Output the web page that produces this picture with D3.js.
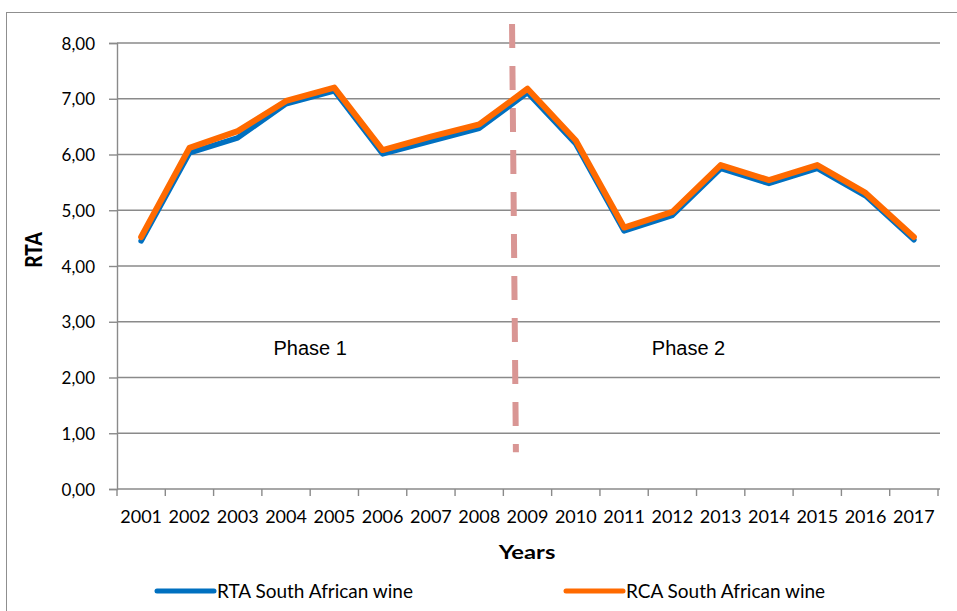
<!DOCTYPE html>
<html>
<head>
<meta charset="utf-8">
<script src="https://cdn.jsdelivr.net/npm/d3@7"></script>
<style>
  html, body { margin: 0; padding: 0; background: #fff; }
  svg { display: block; }
  text { font-family: Lato, "Open Sans", sans-serif; fill: #000; }
</style>
</head>
<body>
<svg id="chart" width="957" height="611"></svg>
<script>
// Years on the category axis
const years = ["2001","2002","2003","2004","2005","2006","2007","2008","2009",
               "2010","2011","2012","2013","2014","2015","2016","2017"];
// Revealed trade advantage of South African wine
const rtaValues = [4.45, 6.03, 6.30, 6.91, 7.14, 6.01, 6.24, 6.47, 7.11,
                   6.19, 4.63, 4.91, 5.75, 5.48, 5.75, 5.26, 4.47];
// Revealed comparative advantage of South African wine
const rcaValues = [4.52, 6.12, 6.42, 6.96, 7.20, 6.08, 6.32, 6.54, 7.18,
                   6.25, 4.69, 4.97, 5.81, 5.54, 5.81, 5.31, 4.52];
// Value axis ticks
const yTicks = [0, 1, 2, 3, 4, 5, 6, 7, 8];
const seriesNames = ["RTA South African wine", "RCA South African wine"];
const phaseLabels = ["Phase 1", "Phase 2"];

const svg = d3.select("#chart");
const plot = { left: 117, right: 938, top: 43, bottom: 489 };
const fmt = v => d3.format(".2f")(v).replace(".", ",");

const x = d3.scaleBand().domain(years).range([plot.left, plot.right]).padding(0);
const cx = d => x(d) + x.bandwidth() / 2;
const y = d3.scaleLinear().domain([0, 8]).range([plot.bottom, plot.top]);

const gridColor = "#8a8a8a";

// outer chart frame
svg.append("rect")
  .attr("x", 6.5).attr("y", 12.5).attr("width", 980).attr("height", 640)
  .attr("fill", "none").attr("stroke", "#8f8f8f").attr("stroke-width", 1);

// horizontal gridlines
svg.append("g").selectAll("line").data(yTicks.filter(t => t > 0)).join("line")
  .attr("x1", plot.left).attr("x2", 940)
  .attr("y1", d => y(d)).attr("y2", d => y(d))
  .attr("stroke", gridColor).attr("stroke-width", 1.4);

// value axis
const yAxis = svg.append("g")
  .attr("transform", `translate(${plot.left},0)`)
  .call(d3.axisLeft(y).tickValues(yTicks).tickFormat(fmt).tickSize(8).tickPadding(14));
yAxis.select(".domain").attr("stroke", gridColor).attr("stroke-width", 1.4);
yAxis.selectAll(".tick line").attr("stroke", gridColor).attr("stroke-width", 1.4);
yAxis.selectAll(".tick text")
  .style("font-family", "Lato, sans-serif").style("font-size", "17px")
  .attr("fill", "#000").attr("dy", "0.36em");

// category axis: labels centred in each band, ticks on band edges
svg.append("line")
  .attr("x1", plot.left).attr("x2", 940)
  .attr("y1", plot.bottom).attr("y2", plot.bottom)
  .attr("stroke", gridColor).attr("stroke-width", 1.4);
const edges = years.map(d => x(d)).concat([plot.right]);
svg.append("g").selectAll("line").data(edges).join("line")
  .attr("x1", d => d).attr("x2", d => d)
  .attr("y1", plot.bottom).attr("y2", plot.bottom + 7)
  .attr("stroke", gridColor).attr("stroke-width", 1.4);
svg.append("g").selectAll("text").data(years).join("text")
  .attr("x", d => cx(d)).attr("y", 523)
  .attr("text-anchor", "middle")
  .style("font-size", "18px")
  .text(d => d);

// axis titles
svg.append("text")
  .attr("transform", `translate(527,559) scale(1.25,1)`)
  .attr("text-anchor", "middle")
  .style("font-size", "19px").style("font-weight", "bold")
  .text("Years");
svg.append("text")
  .attr("transform", `translate(42,250) scale(1.2,1) rotate(-90)`)
  .attr("text-anchor", "middle")
  .style("font-size", "19px").style("font-weight", "900")
  .text("RTA");

// phase divider just inside the 2009 band
const breakTop = x("2009") + x.bandwidth() * 0.18;
const breakBottom = x("2009") + x.bandwidth() * 0.26;
svg.append("line")
  .attr("x1", breakTop).attr("y1", y(8.34))
  .attr("x2", breakBottom).attr("y2", y(0.66))
  .attr("stroke", "#d99694").attr("stroke-width", 6)
  .attr("stroke-dasharray", "24 18");

// phase labels
svg.append("g").selectAll("text").data(phaseLabels).join("text")
  .attr("x", (d, i) => i === 0 ? (cx("2004") + cx("2005")) / 2 : (cx("2012") + cx("2013")) / 2 - 8)
  .attr("y", y(2.40))
  .attr("text-anchor", "middle")
  .style("font-family", "'Liberation Sans', Arial, sans-serif")
  .style("font-size", "20px")
  .text(d => d);

// series lines
const line = d3.line().x((d, i) => cx(years[i])).y(d => y(d));
const series = [
  { name: seriesNames[0], values: rtaValues, color: "#0070c0", width: 5.5 },
  { name: seriesNames[1], values: rcaValues, color: "#ff6a00", width: 6 }
];
svg.append("g").selectAll("path").data(series).join("path")
  .attr("d", d => line(d.values))
  .attr("fill", "none")
  .attr("stroke", d => d.color)
  .attr("stroke-width", d => d.width)
  .attr("stroke-linejoin", "round")
  .attr("stroke-linecap", "round");

// legend
const legendX = [157, 566];
const lg = svg.append("g").selectAll("g").data(series).join("g")
  .attr("transform", (d, i) => `translate(${legendX[i]},591)`);
lg.append("line")
  .attr("x1", 0).attr("x2", 57).attr("y1", 0).attr("y2", 0)
  .attr("stroke", d => d.color).attr("stroke-width", 5)
  .attr("stroke-linecap", "round");
lg.append("text")
  .attr("x", 60).attr("y", 6.5)
  .style("font-size", "19px")
  .text(d => d.name);
</script>
</body>
</html>
